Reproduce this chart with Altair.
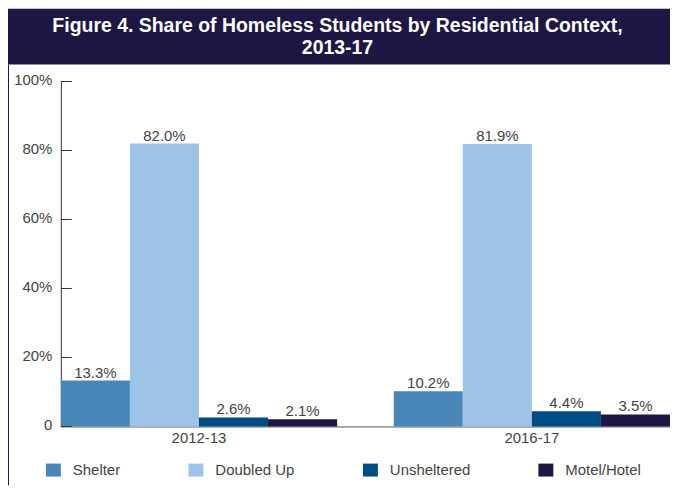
import altair as alt
import pandas as pd

years = ["2012-13", "2016-17"]
categories = ["Shelter", "Doubled Up", "Unsheltered", "Motel/Hotel"]
shelter = [13.3, 10.2]
doubled_up = [82.0, 81.9]
unsheltered = [2.6, 4.4]
motel_hotel = [2.1, 3.5]
colors = ["#4a87b9", "#9dc3e6", "#014c85", "#1e1744"]
y_ticks = [0, 20, 40, 60, 80, 100]
title_text = "Figure 4. Share of Homeless Students by Residential Context,\n2013-17"

rows = []
for i, yr in enumerate(years):
    for cat, vals in zip(categories, [shelter, doubled_up, unsheltered, motel_hotel]):
        rows.append({"year": yr, "category": cat, "value": vals[i], "label": f"{vals[i]:.1f}%"})
df = pd.DataFrame(rows)
tick_df = pd.DataFrame({"value": y_ticks})
one = pd.DataFrame({"k": [0]})

W, H = 611, 346
TOP = 73
FONT = "Liberation Sans"
TXT = "#444444"
HEAD = "#1e1744"

base = alt.Chart(df).encode(
    x=alt.X("year:N", sort=years,
            scale=alt.Scale(paddingInner=0.17, paddingOuter=0),
            axis=alt.Axis(title=None, labelAngle=0, ticks=False, domainColor="#555555",
                          labelFontSize=15, labelColor=TXT, labelFont=FONT, labelPadding=4)),
    xOffset=alt.XOffset("category:N", sort=categories,
                        scale=alt.Scale(paddingInner=0, paddingOuter=0)),
)

bars = base.mark_bar().encode(
    y=alt.Y("value:Q", scale=alt.Scale(domain=[0, 100]),
            axis=alt.Axis(values=y_ticks, title=None, grid=False, ticks=False,
                          domainColor="#333333",
                          labelExpr="datum.value == 0 ? '0' : datum.value + '%'",
                          labelPadding=9, labelOffset=-2, labelFontSize=15,
                          labelColor=TXT, labelFont=FONT)),
    color=alt.Color("category:N", sort=categories,
                    scale=alt.Scale(domain=categories, range=colors),
                    legend=alt.Legend(title=None, orient="none", legendX=-15, legendY=382,
                                      direction="horizontal", columns=4,
                                      symbolType="M-1,-0.867H1V0.867H-1Z", symbolSize=225,
                                      symbolStrokeWidth=0,
                                      labelFontSize=15, labelFont=FONT, labelColor=TXT,
                                      columnPadding=68, labelOffset=12, padding=0)),
)

labels = base.mark_text(dy=-3, baseline="alphabetic", fontSize=15, font=FONT, color=TXT).encode(
    y="value:Q", text="label:N"
)

ticks = alt.Chart(tick_df).mark_rule(color="#333333", strokeWidth=1).encode(
    y="value:Q", x=alt.value(0), x2=alt.value(11)
)

header = alt.Chart(one).mark_rect(color=HEAD).encode(
    x=alt.value(-53), x2=alt.value(W + 1), y=alt.value(-TOP), y2=alt.value(-17)
)
title = alt.Chart(one).mark_text(
    lineBreak="\n", fontSize=19.5, fontWeight="bold", color="white", font=FONT,
    align="center", baseline="alphabetic", lineHeight=22
).encode(x=alt.value(277.5), y=alt.value(-49.5), text=alt.value(title_text))

border = alt.Chart(one).mark_rule(color=HEAD, strokeWidth=1).encode(
    x=alt.value(-52.5), y=alt.value(-17), y2=alt.value(H + 59)
)

chart = alt.layer(header, title, border, bars, labels, ticks).properties(
    width=W, height=H,
    padding={"left": 53, "top": TOP, "right": 0, "bottom": 59},
    autosize=alt.AutoSizeParams(type="none"),
).configure_view(stroke=None)

chart.save("out.html", embed_options={"renderer": "svg", "actions": False})
